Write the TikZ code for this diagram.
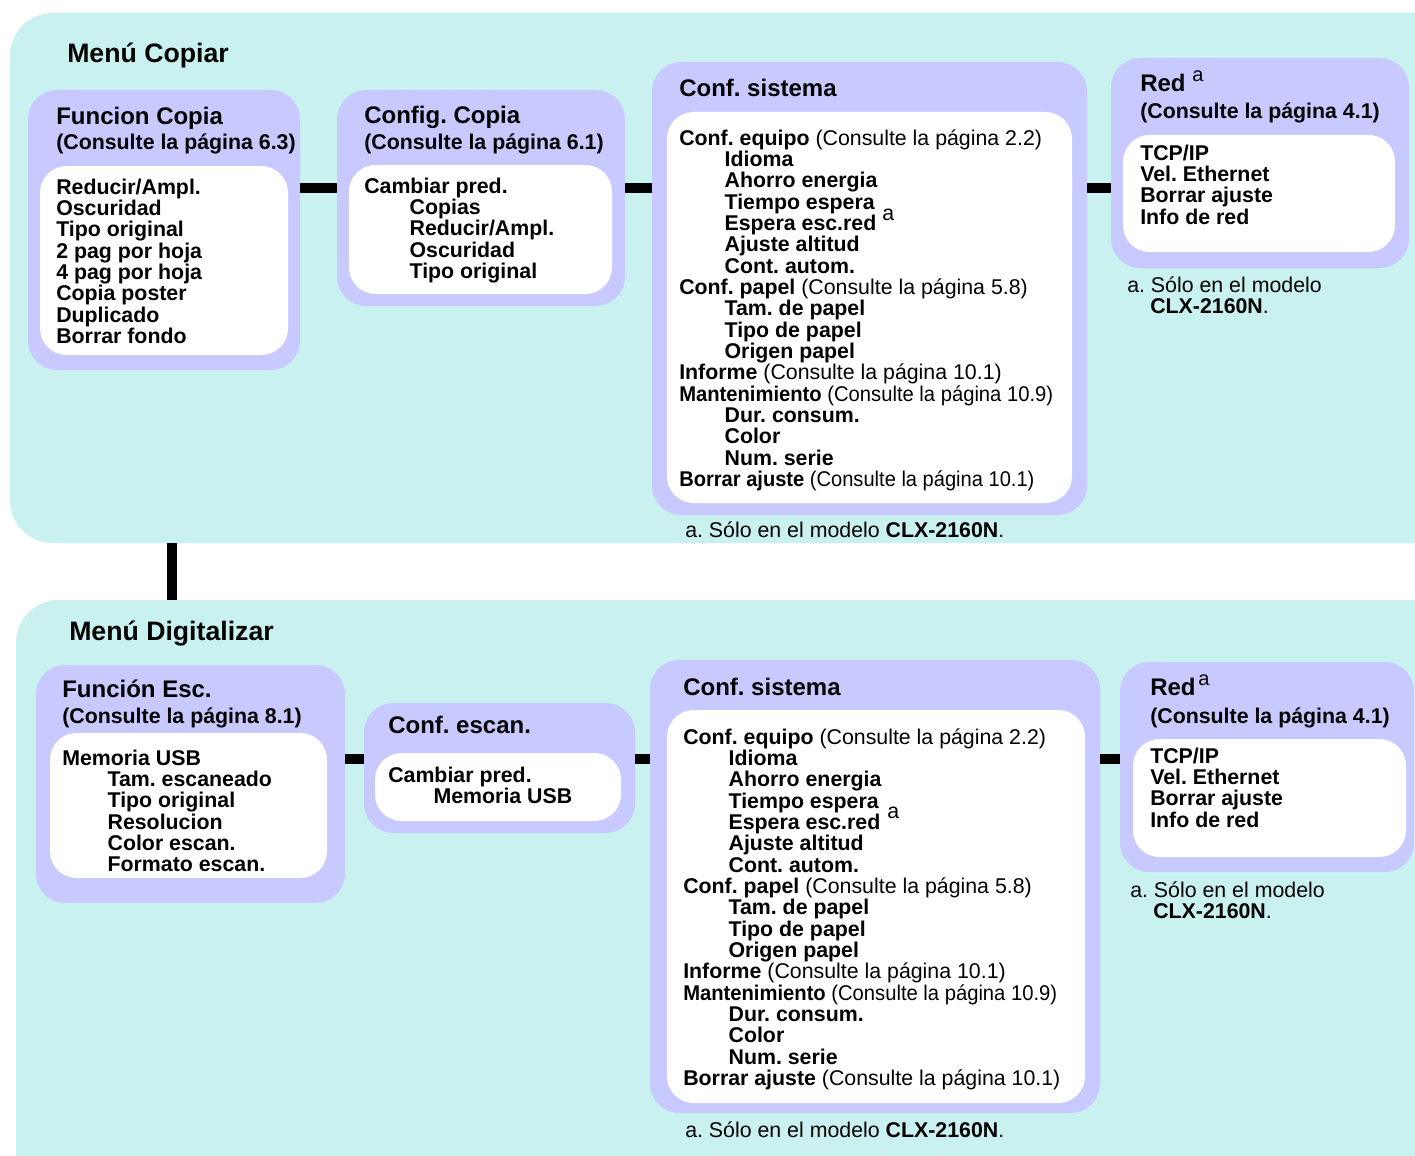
\documentclass[tikz,border=0pt]{standalone}
\usepackage{fontspec}
\usepackage{graphicx}
\setmainfont{Liberation Sans}
\usetikzlibrary{fit}
\definecolor{panelc}{RGB}{201,241,239}
\definecolor{boxc}{RGB}{200,202,255}
\frenchspacing
\begin{document}
\begin{tikzpicture}[x=0.75pt,y=-0.75pt,
  panel/.style={fill=panelc, rounded corners=32pt, inner sep=0pt},
  obox/.style={fill=boxc, rounded corners=22pt, inner sep=0pt},
  ibox/.style={fill=white, rounded corners=20pt, inner sep=0pt},
  conn/.style={line width=7.5pt, draw=black},
  txt/.style={anchor=north west, inner sep=0pt, align=left, font=\fontsize{16}{16}\selectfont\bfseries},
  ttl/.style={anchor=base west, inner sep=0pt, font=\fontsize{18}{18}\selectfont\bfseries},
  big/.style={anchor=base west, inner sep=0pt, font=\fontsize{20}{20}\selectfont\bfseries},
  sub/.style={anchor=base west, inner sep=0pt, font=\fontsize{16}{16}\selectfont\bfseries},
  note/.style={anchor=base west, inner sep=0pt, font=\fontsize{16}{16}\selectfont},
  supa/.style={anchor=base west, inner sep=0pt, font=\fontsize{15}{15}\selectfont},
]
\newcommand{\ind}{\hspace*{34pt}}
\newcommand{\fl}{\rule{0pt}{12pt}}
\newcommand{\sq}[2]{\scalebox{#1}[1]{#2}}
\useasboundingbox (0,0) rectangle (1415,1156);
\clip (0,0) rectangle (1415,1156);

% panels
\node[panel, fit={(10,13) (1480,543)}] (tp) {};
\node[panel, fit={(16,600) (1480,1220)}] (bp) {};

% ---------- top panel ----------
\node[big] (tt) at (67,63) {Menú Copiar};

\node[obox, fit={(28,90) (300,370)}] (b1) {};
\node[ibox, fit={(40,166) (288,355)}] (b1i) {};
\node[ttl] (b1t) at (56,125) {Funcion Copia};
\node[sub] (b1s) at (56,150) {(Consulte la página 6.3)};
\node[txt] (b1x) at (56,178) {\fl Reducir/Ampl.\\Oscuridad\\Tipo original\\2 pag por hoja\\4 pag por hoja\\Copia poster\\Duplicado\\Borrar fondo};

\node[obox, fit={(337,90) (625,306)}] (b2) {};
\node[ibox, fit={(349,165) (612,294)}] (b2i) {};
\node[ttl] (b2t) at (364,123) {Config. Copia};
\node[sub] (b2s) at (364,150) {(Consulte la página 6.1)};
\node[txt] (b2x) at (364,177) {\fl Cambiar pred.\\\ind Copias\\\ind Reducir/Ampl.\\\ind Oscuridad\\\ind Tipo original};

\node[obox, fit={(652,62) (1087,515)}] (b3) {};
\node[ibox, fit={(667,112) (1072,503)}] (b3i) {};
\node[ttl] (b3t) at (679,97) {Conf. sistema};
\node[txt] (b3x) at (679,129) {\fl Conf. equipo \mdseries(Consulte la página 2.2)\\
\ind Idioma\\\ind Ahorro energia\\\ind Tiempo espera\\\ind Espera esc.red\\\ind Ajuste altitud\\\ind Cont. autom.\\
Conf. papel \mdseries(Consulte la página 5.8)\\
\ind Tam. de papel\\\ind Tipo de papel\\\ind Origen papel\\
Informe \mdseries(Consulte la página 10.1)\\
\sq{0.947}{Mantenimiento \mdseries(Consulte la página 10.9)}\\
\ind Dur. consum.\\\ind Color\\\ind Num. serie\\
\sq{0.942}{Borrar ajuste \mdseries(Consulte la página 10.1)}};
\node[note] (b3a) at (882,220) {a};
\node[note] (b3n) at (685,537) {a. Sólo en el modelo \textbf{CLX-2160N}.};

\node[obox, fit={(1111,58) (1409,268)}] (b4) {};
\node[ibox, fit={(1123,135) (1395,252)}] (b4i) {};
\node[ttl] (b4t) at (1140,92) {Red};
\node[supa] (b4a) at (1192,82) {a};
\node[sub] (b4s) at (1140,118) {(Consulte la página 4.1)};
\node[txt] (b4x) at (1140,144) {\fl TCP/IP\\Vel. Ethernet\\Borrar ajuste\\Info de red};
\node[note] (b4n1) at (1127,292) {a. Sólo en el modelo};
\node[note] (b4n2) at (1150,313) {\textbf{CLX-2160N}.};

\draw[conn] (b1.east |- 0,188) -- (b2.west |- 0,188);
\draw[conn] (b2.east |- 0,188) -- (b3.west |- 0,188);
\draw[conn] (b3.east |- 0,188) -- (b4.west |- 0,188);

% ---------- link between panels ----------
\draw[conn] (tp.south -| 172,0) -- (bp.north -| 172,0);

% ---------- bottom panel ----------
\node[big] (bt) at (69,640) {Menú Digitalizar};

\node[obox, fit={(36,665) (345,903)}] (b5) {};
\node[ibox, fit={(50,733) (327,878)}] (b5i) {};
\node[ttl] (b5t) at (62,697) {Función Esc.};
\node[sub] (b5s) at (62,723) {(Consulte la página 8.1)};
\node[txt] (b5x) at (62,749) {\fl Memoria USB\\\ind Tam. escaneado\\\ind Tipo original\\\ind Resolucion\\\ind Color escan.\\\ind Formato escan.};

\node[obox, fit={(364,703) (635,833)}] (b6) {};
\node[ibox, fit={(375,753) (621,821)}] (b6i) {};
\node[ttl] (b6t) at (388,733) {Conf. escan.};
\node[txt] (b6x) at (388,766) {\fl Cambiar pred.\\\ind Memoria USB};

\node[obox, fit={(650,660) (1100,1113)}] (b7) {};
\node[ibox, fit={(667,710) (1085,1103)}] (b7i) {};
\node[ttl] (b7t) at (683,695) {Conf. sistema};
\node[txt] (b7x) at (683,728) {\fl Conf. equipo \mdseries(Consulte la página 2.2)\\
\ind Idioma\\\ind Ahorro energia\\\ind Tiempo espera\\\ind Espera esc.red\\\ind Ajuste altitud\\\ind Cont. autom.\\
Conf. papel \mdseries(Consulte la página 5.8)\\
\ind Tam. de papel\\\ind Tipo de papel\\\ind Origen papel\\
Informe \mdseries(Consulte la página 10.1)\\
\sq{0.947}{Mantenimiento \mdseries(Consulte la página 10.9)}\\
\ind Dur. consum.\\\ind Color\\\ind Num. serie\\
Borrar ajuste \mdseries(Consulte la página 10.1)};
\node[note] (b7a) at (887,818) {a};
\node[note] (b7n) at (685,1137) {a. Sólo en el modelo \textbf{CLX-2160N}.};

\node[obox, fit={(1120,662) (1414,872)}] (b8) {};
\node[ibox, fit={(1133,739) (1406,857)}] (b8i) {};
\node[ttl] (b8t) at (1150,695) {Red};
\node[supa] (b8a) at (1198,685) {a};
\node[sub] (b8s) at (1150,723) {(Consulte la página 4.1)};
\node[txt] (b8x) at (1150,747) {\fl TCP/IP\\Vel. Ethernet\\Borrar ajuste\\Info de red};
\node[note] (b8n1) at (1130,897) {a. Sólo en el modelo};
\node[note] (b8n2) at (1153,918) {\textbf{CLX-2160N}.};

\draw[conn] (b5.east |- 0,759) -- (b6.west |- 0,759);
\draw[conn] (b6.east |- 0,759) -- (b7.west |- 0,759);
\draw[conn] (b7.east |- 0,759) -- (b8.west |- 0,759);
\end{tikzpicture}
\end{document}
